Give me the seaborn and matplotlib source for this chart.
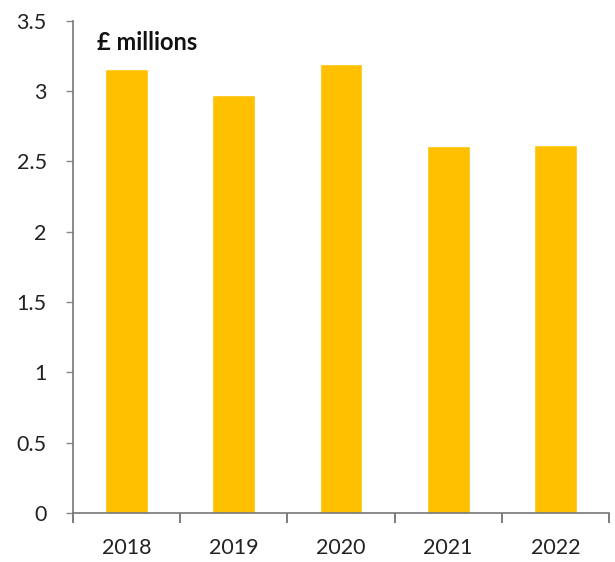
import matplotlib
matplotlib.use("Agg")
import matplotlib.pyplot as plt
import seaborn as sns
import pandas as pd
import numpy as np

years = ["2018", "2019", "2020", "2021", "2022"]
values = [3.16, 2.97, 3.19, 2.61, 2.62]
y_ticks = [0, 0.5, 1, 1.5, 2, 2.5, 3, 3.5]
y_tick_labels = ["0", "0.5", "1", "1.5", "2", "2.5", "3", "3.5"]
unit_label = "£ millions"

sns.set_theme(style="white")
plt.rcParams["font.family"] = ["Lato", "DejaVu Sans"]

df = pd.DataFrame({"year": years, "value": values})

fig = plt.figure(figsize=(6.15, 5.62), dpi=100)
ax = fig.add_axes([0.119, 0.087, 0.871, 0.876])

sns.barplot(data=df, x="year", y="value", color="#FFC000", saturation=1,
            width=0.4, ax=ax)

ax.set_xlim(-0.5, len(years) - 0.5)
ax.set_ylim(0, 3.5)
ax.set_yticks(y_ticks)
ax.set_yticklabels(y_tick_labels)
ax.set_xlabel("")
ax.set_ylabel("")

# tick marks sit between categories, labels centred under bars
ax.set_xticks(np.arange(-0.5, len(years), 1.0), minor=True)
ax.tick_params(axis="x", which="major", length=0, labelsize=15.5, pad=18,
               colors="#222222")
ax.tick_params(axis="x", which="minor", length=7, width=1.2, color="#666666",
               direction="out", bottom=True)
ax.tick_params(axis="y", length=5, width=1, color="#888888", direction="out",
               left=True, labelsize=15.5, labelcolor="#222222", pad=14)

for side in ["top", "right"]:
    ax.spines[side].set_visible(False)
for side in ["left", "bottom"]:
    ax.spines[side].set_color("#777777")
    ax.spines[side].set_linewidth(1.2)

ax.text(0.045, 3.345, unit_label, fontsize=17, fontweight="bold",
        color="#111111", transform=ax.get_yaxis_transform(), ha="left",
        va="center")

fig.savefig("out.png", dpi=100)
